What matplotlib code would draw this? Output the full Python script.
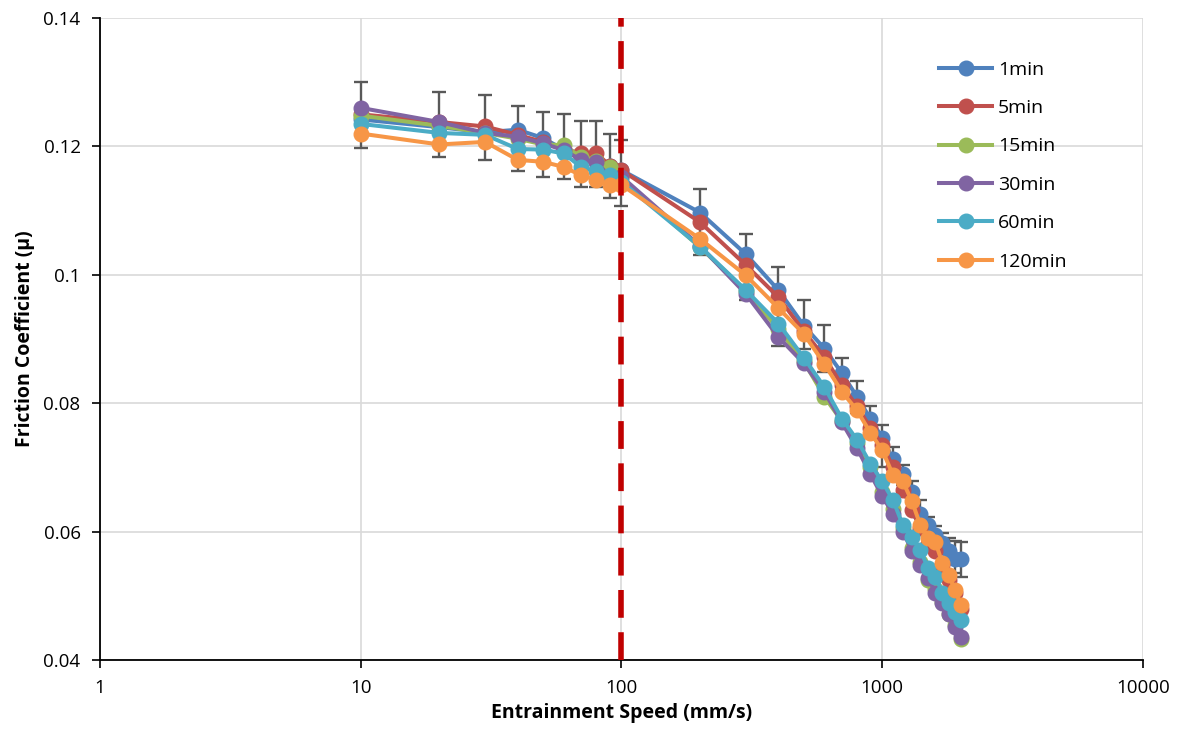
import matplotlib
matplotlib.use("Agg")
import matplotlib.pyplot as plt
from matplotlib.ticker import FixedLocator, FixedFormatter, NullLocator

# entrainment speed (mm/s)
speed = [10, 20, 30, 40, 50, 60, 70, 80, 90, 100,
         200, 300, 400, 500, 600, 700, 800, 900, 1000,
         1100, 1200, 1300, 1400, 1500, 1600, 1700, 1800, 1900, 2000]

mu_1min = [0.1242, 0.1230, 0.1222, 0.1226, 0.1213, 0.1195, 0.1182, 0.1178, 0.1170, 0.1163,
           0.1097, 0.1032, 0.0976, 0.0921, 0.0885, 0.0847, 0.0810, 0.0776, 0.0746,
           0.0713, 0.0690, 0.0662, 0.0628, 0.0610, 0.0595, 0.0582, 0.0569, 0.0558, 0.0557]
mu_5min = [0.1250, 0.1238, 0.1231, 0.1218, 0.1207, 0.1195, 0.1190, 0.1190, 0.1170, 0.1163,
           0.1082, 0.1015, 0.0965, 0.0912, 0.0872, 0.0828, 0.0795, 0.0762, 0.0735,
           0.0700, 0.0665, 0.0634, 0.0605, 0.0580, 0.0569, 0.0548, 0.0525, 0.0505, 0.0480]
mu_15min = [0.1248, 0.1232, 0.1221, 0.1212, 0.1203, 0.1202, 0.1183, 0.1178, 0.1168, 0.1150,
            0.1043, 0.0975, 0.0915, 0.0865, 0.0810, 0.0772, 0.0738, 0.0700, 0.0662,
            0.0635, 0.0605, 0.0575, 0.0552, 0.0524, 0.0510, 0.0490, 0.0472, 0.0455, 0.0433]
mu_30min = [0.1260, 0.1238, 0.1221, 0.1215, 0.1205, 0.1194, 0.1179, 0.1176, 0.1153, 0.1153,
            0.1045, 0.0970, 0.0903, 0.0862, 0.0818, 0.0770, 0.0730, 0.0690, 0.0655,
            0.0628, 0.0600, 0.0570, 0.0548, 0.0528, 0.0505, 0.0488, 0.0472, 0.0452, 0.0436]
mu_60min = [0.1235, 0.1221, 0.1218, 0.1196, 0.1195, 0.1189, 0.1168, 0.1161, 0.1155, 0.1145,
            0.1044, 0.0976, 0.0924, 0.0871, 0.0825, 0.0776, 0.0743, 0.0706, 0.0678,
            0.0649, 0.0610, 0.0592, 0.0571, 0.0543, 0.0530, 0.0504, 0.0489, 0.0475, 0.0462]
mu_120min = [0.1220, 0.1203, 0.1207, 0.1179, 0.1176, 0.1168, 0.1155, 0.1148, 0.1140, 0.1140,
             0.1056, 0.0999, 0.0948, 0.0908, 0.0861, 0.0818, 0.0789, 0.0754, 0.0727,
             0.0688, 0.0678, 0.0647, 0.0610, 0.0590, 0.0583, 0.0551, 0.0532, 0.0509, 0.0486]

# error bar ends (on the 1min series)
err_top = [0.1300, 0.1285, 0.1280, 0.1263, 0.1254, 0.1250, 0.1239, 0.1240, 0.1220, 0.1210,
           0.1133, 0.1064, 0.1012, 0.0960, 0.0922, 0.0870, 0.0834, 0.0795, 0.0766,
           0.0732, 0.0704, 0.0678, 0.0649, 0.0623, 0.0608, 0.0598, 0.0590, 0.0585, 0.0584]
err_bot = [0.1198, 0.1184, 0.1179, 0.1161, 0.1153, 0.1149, 0.1136, 0.1136, 0.1119, 0.1107,
           0.1031, 0.0961, 0.0889, 0.0885, 0.0848, 0.0820, 0.0785, 0.0755, 0.0700,
           0.0690, 0.0672, 0.0645, 0.0605, 0.0595, 0.0580, 0.0565, 0.0550, 0.0535, 0.0530]

labels = ["1min", "5min", "15min", "30min", "60min", "120min"]
colors = ["#4F81BD", "#C0504D", "#9BBB59", "#8064A2", "#4BACC6", "#F79646"]
series = [mu_1min, mu_5min, mu_15min, mu_30min, mu_60min, mu_120min]

x_ticks = [1, 10, 100, 1000, 10000]
y_ticks = [0.04, 0.06, 0.08, 0.1, 0.12, 0.14]
y_tick_labels = ["0.04", "0.06", "0.08", "0.1", "0.12", "0.14"]

plt.rcParams['font.family'] = ['Open Sans', 'DejaVu Sans']

fig = plt.figure(figsize=(11.83, 7.29), dpi=100)
ax = fig.add_axes([0.0845, 0.0947, 0.8817, 0.8806])

lo = [m - b for m, b in zip(mu_1min, err_bot)]
hi = [t - m for m, t in zip(mu_1min, err_top)]
ax.errorbar(speed, mu_1min, yerr=[lo, hi], fmt='none', ecolor='#595959',
            elinewidth=1.7, capsize=5, capthick=1.7, zorder=2)

for i, (vals, lab, col) in enumerate(zip(series, labels, colors)):
    ax.plot(speed, vals, color=col, marker='o', markersize=10.5, linewidth=2.9,
            label=lab, zorder=3 + i)

ax.axvline(100, color='#C00000', linewidth=4, dashes=(5, 2.6), zorder=20)

ax.set_xscale('log')
ax.set_xlim(1, 10000)
ax.set_ylim(0.04, 0.14)
ax.xaxis.set_major_locator(FixedLocator(x_ticks))
ax.xaxis.set_major_formatter(FixedFormatter([str(v) for v in x_ticks]))
ax.xaxis.set_minor_locator(NullLocator())
ax.yaxis.set_major_locator(FixedLocator(y_ticks))
ax.yaxis.set_major_formatter(FixedFormatter(y_tick_labels))

ax.grid(True, color='#D9D9D9', linewidth=1.2)
ax.set_axisbelow(True)
for s in ['top', 'right']:
    ax.spines[s].set_visible(False)
for s in ['left', 'bottom']:
    ax.spines[s].set_color('black')
    ax.spines[s].set_linewidth(1.3)
ax.tick_params(direction='out', length=6, width=1.2, labelsize=13.5, pad=8)

ax.set_xlabel('Entrainment Speed (mm/s)', fontsize=14, fontweight='bold', labelpad=4)
ax.set_ylabel('Friction Coefficient (μ)', fontsize=14, fontweight='bold', labelpad=6)

ax.legend(loc='upper left', bbox_to_anchor=(0.788, 0.961), frameon=False,
          fontsize=14, labelspacing=1.05, handlelength=2.7, handletextpad=0.3)

fig.savefig('out.png', dpi=100)
